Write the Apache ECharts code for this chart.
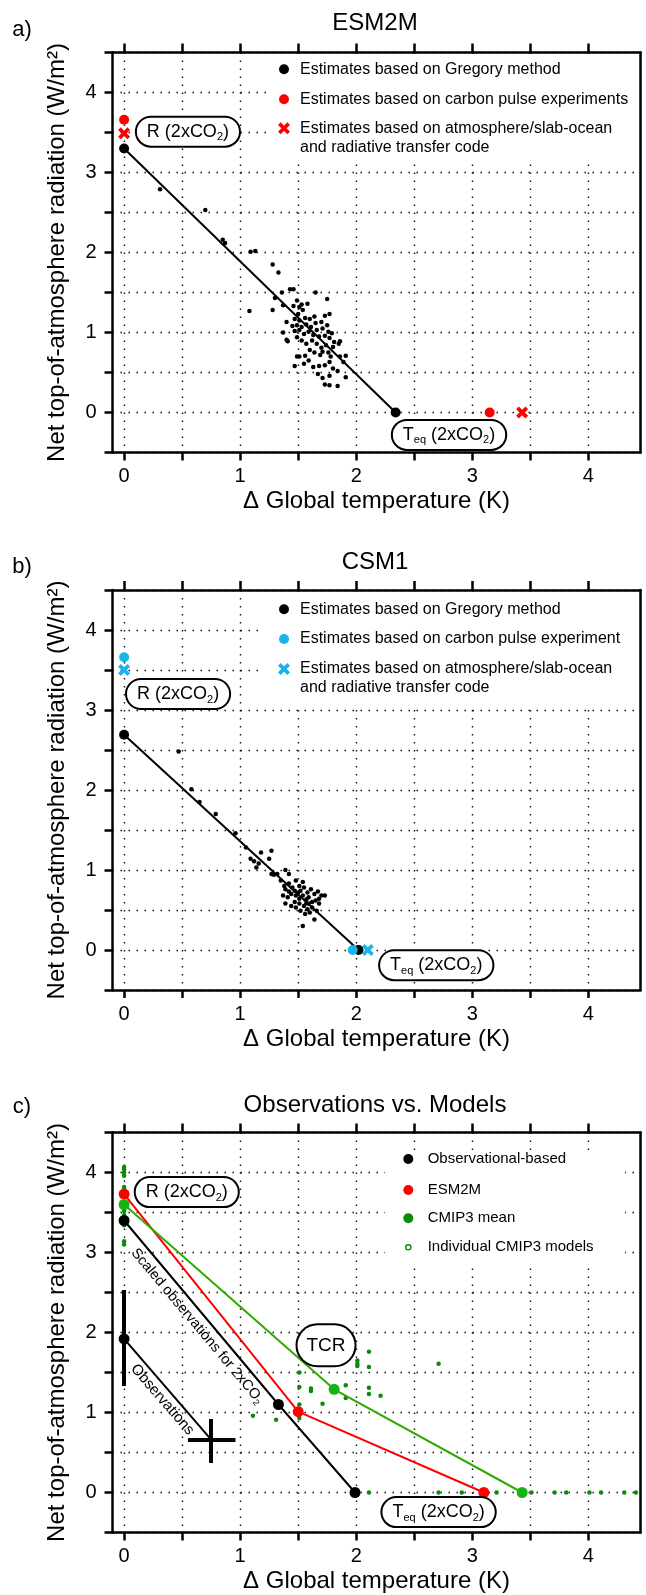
<!DOCTYPE html>
<html>
<head>
    <meta charset="utf-8">
    <title>Gregory plots</title>
    <script src="https://cdn.jsdelivr.net/npm/echarts@6/dist/echarts.min.js"></script>
    <style>
      body { margin: 0; padding: 0; background: #fff; }
    </style>
</head>
<body>
    <div id="main" style="width:646px;height:1595px"></div>
    <script type="text/javascript">
      // ---- data ----
      const xTicks = [0, 0.5, 1, 1.5, 2, 2.5, 3, 3.5, 4];
      const xLabels = [0, 1, 2, 3, 4];

      // a) ESM2M
      const esmGregory = [[0.31,2.79],[0.70,2.53],[0.85,2.16],[0.87,2.12],[1.09,2.01],[1.13,2.02],[1.28,1.85],[1.33,1.75],[1.08,1.27],[1.36,1.50],[1.43,1.54],[1.46,1.54],[1.65,1.50],[1.30,1.43],[1.75,1.42],[1.49,1.40],[1.37,1.34],[1.46,1.33],[1.51,1.32],[1.53,1.35],[1.58,1.36],[1.28,1.28],[1.54,1.28],[1.50,1.23],[1.73,1.21],[1.77,1.23],[1.47,1.17],[1.51,1.15],[1.56,1.18],[1.60,1.17],[1.64,1.20],[1.40,1.13],[1.65,1.12],[1.70,1.13],[1.75,1.09],[1.45,1.08],[1.49,1.09],[1.53,1.07],[1.57,1.10],[1.61,1.07],[1.66,1.03],[1.71,1.05],[1.76,1.01],[1.79,0.99],[1.37,1.00],[1.47,1.02],[1.51,1.03],[1.55,0.98],[1.59,1.01],[1.63,0.97],[1.68,0.95],[1.73,0.96],[1.77,0.93],[1.81,0.88],[1.86,0.89],[1.40,0.91],[1.41,0.89],[1.49,0.94],[1.53,0.90],[1.57,0.86],[1.62,0.90],[1.66,0.86],[1.70,0.81],[1.74,0.84],[1.80,0.82],[1.85,0.86],[1.60,0.78],[1.64,0.75],[1.69,0.72],[1.71,0.76],[1.76,0.75],[1.78,0.70],[1.86,0.70],[1.91,0.71],[1.56,0.71],[1.51,0.70],[1.49,0.70],[1.47,0.58],[1.55,0.61],[1.63,0.57],[1.68,0.58],[1.73,0.59],[1.77,0.63],[1.80,0.55],[1.89,0.63],[1.59,0.65],[1.67,0.48],[1.71,0.43],[1.77,0.46],[1.84,0.52],[1.91,0.44],[1.73,0.35],[1.77,0.34],[1.84,0.33]];
      const esmFit = [[0, 3.30], [2.34, 0]];
      const esmPulse = [[0, 3.66], [3.15, 0]];
      const esmSlab = [[0, 3.49], [3.43, 0]];

      // b) CSM1
      const csmGregory = [[0.47,2.48],[0.58,2.01],[0.65,1.85],[0.79,1.70],[0.96,1.46],[1.05,1.28],[1.09,1.14],[1.12,1.11],[1.16,1.08],[1.14,1.03],[1.18,1.22],[1.27,1.24],[1.25,1.14],[1.27,0.95],[1.29,0.94],[1.32,0.95],[1.39,1.00],[1.42,0.95],[1.35,0.87],[1.38,0.80],[1.39,0.76],[1.42,0.83],[1.45,0.78],[1.48,0.87],[1.51,0.80],[1.52,0.74],[1.55,0.78],[1.58,0.72],[1.61,0.76],[1.64,0.70],[1.67,0.73],[1.70,0.68],[1.73,0.68],[1.37,0.68],[1.41,0.66],[1.44,0.70],[1.48,0.68],[1.51,0.64],[1.54,0.68],[1.57,0.63],[1.59,0.66],[1.62,0.60],[1.65,0.62],[1.68,0.58],[1.47,0.60],[1.51,0.58],[1.55,0.55],[1.58,0.51],[1.62,0.53],[1.66,0.49],[1.60,0.47],[1.64,0.38],[1.54,0.30],[1.50,0.72],[1.47,0.74],[1.42,0.73],[1.54,0.85],[1.57,0.58],[1.68,0.64],[1.44,0.55],[1.48,0.53],[1.52,0.49],[1.56,0.45],[1.59,0.58],[1.39,0.58]];
      const csmFit = [[0, 2.69], [2.02, 0]];
      const csmPulse = [[0, 3.66], [1.97, 0]];
      const csmSlab = [[0, 3.50], [2.10, 0]];

      // c) Observations vs. Models
      const cmipModels = [[0,4.07],[0,4.04],[0,4.00],[0,3.96],[0,3.82],[0,3.79],[0,3.52],[0,3.47],[0,3.38],[0,3.34],[0,3.14],[0,3.10],[1.11,0.96],[1.31,0.91],[1.51,1.50],[1.51,1.32],[1.51,1.10],[1.51,0.93],[1.61,1.30],[1.61,1.27],[1.71,1.11],[1.91,1.34],[1.91,1.18],[2.01,1.65],[2.01,1.61],[2.01,1.58],[2.11,1.76],[2.11,1.57],[2.11,1.31],[2.11,1.23],[2.21,1.21],[2.71,1.61],[2.11,0],[2.71,0],[2.91,0],[3.21,0],[3.51,0],[3.71,0],[3.81,0],[4.01,0],[4.11,0],[4.31,0],[4.41,0]];
      const obsRaw = [[0, 1.92], [0.75, 0.66]];
      const obsScaled = [[0, 3.40], [1.33, 1.10], [1.99, 0]];
      const esmModel = [[0, 3.73], [1.50, 1.01], [3.10, 0]];
      const cmipMean = [[0, 3.60], [1.81, 1.29], [3.43, 0]];
      const obsErrV = [[0, 1.33, 2.53], [0.75, 0.37, 0.92]];   // x, low, high
      const obsErrH = [[0.66, 0.55, 0.96]];                    // y, low, high

      // ---- layout ----
      const FONT = "'Liberation Sans', Arial, Helvetica, sans-serif";
      const RED = '#ff0000', CYAN = '#1ab4ec', GREEN_LINE = '#2eaa00', GREEN_DOT = '#14b414', GREEN_SMALL = '#0a8c0a';
      const X_MIN = -0.1, X_MAX = 4.45, Y_MIN = -0.5, Y_MAX = 4.5;
      const GRID_LEFT = 112.5, GRID_W = 528, GRID_H = 400;
      const panelTops = [52.5, 590, 1132.5];
      const unitX = GRID_W / (X_MAX - X_MIN);
      const CROSS = [[0,2.2],[2.2,0],[5,2.8],[7.8,0],[10,2.2],[7.2,5],[10,7.8],[7.8,10],[5,7.2],[2.2,10],[0,7.8],[2.8,5]];
      const X_PATH = 'path://M' + CROSS.map(p => p.join(',')).join('L') + 'Z';

      const dotted = { type: [1.5, 6.5], width: 1.4, color: '#111' };
      const spine = { color: '#000', width: 2.5 };

      const chart = echarts.init(document.getElementById('main'));

      const grids = [], xAxes = [], yAxes = [];
      panelTops.forEach((top, i) => {
        grids.push({ left: GRID_LEFT, top: top, width: GRID_W, height: GRID_H });
        // overlay grid starting at x = 0, only for the vertical dotted grid lines
        grids.push({ left: GRID_LEFT - X_MIN * unitX, top: top, width: GRID_W + X_MIN * unitX, height: GRID_H });

        xAxes.push({
          gridIndex: 2 * i, type: 'value', min: X_MIN, max: X_MAX, position: 'bottom',
          axisLine: { onZero: false, lineStyle: spine },
          axisTick: { customValues: xTicks, length: 8, lineStyle: spine },
          axisLabel: { customValues: xLabels, fontSize: 20, margin: 14, color: '#000', fontFamily: FONT },
          splitLine: { show: false },
          name: 'Δ Global temperature (K)', nameLocation: 'middle', nameGap: 37,
          nameTextStyle: { fontSize: 24, color: '#000', fontFamily: FONT }
        });
        xAxes.push({
          gridIndex: 2 * i, type: 'value', min: X_MIN, max: X_MAX, position: 'top',
          axisLine: { onZero: false, lineStyle: spine },
          axisTick: { customValues: xTicks, length: 9, lineStyle: spine },
          axisLabel: { show: false }, splitLine: { show: false }
        });
        xAxes.push({
          gridIndex: 2 * i + 1, type: 'value', min: 0, max: X_MAX, interval: 0.5,
          axisLine: { show: false }, axisTick: { show: false }, axisLabel: { show: false },
          splitLine: { show: true, lineStyle: dotted }
        });

        yAxes.push({
          gridIndex: 2 * i, type: 'value', min: Y_MIN, max: Y_MAX, interval: 0.5, position: 'left',
          axisLine: { onZero: false, lineStyle: spine },
          axisTick: { length: 8, lineStyle: spine },
          axisLabel: { fontSize: 20, margin: 16, color: '#000', fontFamily: FONT,
                       formatter: v => (Number.isInteger(v) ? String(v) : '') },
          splitLine: { show: true, lineStyle: dotted },
          name: 'Net top-of-atmosphere radiation (W/m²)', nameLocation: 'middle', nameRotate: 90, nameGap: 43,
          nameTextStyle: { fontSize: 24, color: '#000', fontFamily: FONT }
        });
        yAxes.push({
          gridIndex: 2 * i, type: 'value', min: Y_MIN, max: Y_MAX, position: 'right',
          axisLine: { onZero: false, lineStyle: spine },
          axisTick: { show: false }, axisLabel: { show: false }, splitLine: { show: false }
        });
        yAxes.push({ gridIndex: 2 * i + 1, type: 'value', min: Y_MIN, max: Y_MAX, show: false });
      });

      const ax = i => ({ xAxisIndex: 3 * i, yAxisIndex: 3 * i });

      function smallDots(i, data, color) {
        return Object.assign({ type: 'scatter', data: data, symbol: 'circle', symbolSize: 4.5,
          itemStyle: { color: color, opacity: 1 }, z: 2 }, ax(i));
      }
      function bigDots(i, data, color, symbol, size) {
        return Object.assign({ type: 'scatter', data: data, symbol: symbol || 'circle', symbolSize: size || 10,
          itemStyle: { color: color, opacity: 1 }, z: 5 }, ax(i));
      }
      function pathLine(i, data, color, dotColor, size) {
        return Object.assign({ type: 'line', data: data, symbol: 'circle', symbolSize: size || 10, showSymbol: true,
          lineStyle: { color: color, width: 2 }, itemStyle: { color: dotColor || color, opacity: 1 }, z: 4 }, ax(i));
      }

      const errSegments = obsErrV.map(d => ({ coords: [[d[0], d[1]], [d[0], d[2]]] }))
        .concat(obsErrH.map(d => ({ coords: [[d[1], d[0]], [d[2], d[0]]] })));

      const series = [
        smallDots(0, esmGregory, '#000'),
        pathLine(0, esmFit, '#000', '#000', 10),
        bigDots(0, esmPulse, RED, 'circle', 10),
        bigDots(0, esmSlab, RED, X_PATH, 12),

        smallDots(1, csmGregory, '#000'),
        pathLine(1, csmFit, '#000', '#000', 10),
        bigDots(1, csmPulse, CYAN, 'circle', 10),
        bigDots(1, csmSlab, CYAN, X_PATH, 12),

        smallDots(2, cmipModels, GREEN_SMALL),
        Object.assign({ type: 'lines', coordinateSystem: 'cartesian2d', data: errSegments,
          lineStyle: { color: '#000', width: 4, opacity: 1 }, z: 3 }, ax(2)),
        pathLine(2, obsRaw.map((p, k) => (k === 0 ? p : { value: p, symbol: 'none' })), '#000', '#000', 11),
        pathLine(2, obsScaled, '#000', '#000', 11),
        pathLine(2, esmModel, RED, RED, 11),
        pathLine(2, cmipMean, GREEN_LINE, GREEN_DOT, 11)
      ];

      chart.setOption({
        animation: false,
        backgroundColor: '#fff',
        textStyle: { fontFamily: FONT },
        grid: grids, xAxis: xAxes, yAxis: yAxes,
        series: series
      });

      // ---- text, legends and labelled boxes ----
      const toPx = (i, p) => chart.convertToPixel(ax(i), p);
      const g = [];

      function plainText(x, y, text, size, extra) {
        g.push(Object.assign({ type: 'text', x: x, y: y, z: 60,
          style: { text: text, fontSize: size, fontFamily: FONT, fill: '#000', align: 'center', verticalAlign: 'middle' } }, extra || {}));
      }

      [['a)', 'ESM2M', 23, 30], ['b)', 'CSM1', 562, 567], ['c)', 'Observations vs. Models', 1105, 1107]].forEach(t => {
        plainText(375, t[2], t[1], 24);
        plainText(22, t[3], t[0], 22);
      });

      function icon(kind, color, cx, cy) {
        if (kind === 'cross') {
          const pts = CROSS.map(p => [cx - 6 + p[0] * 1.2, cy - 6 + p[1] * 1.2]);
          return { type: 'polygon', z: 62, shape: { points: pts }, style: { fill: color } };
        }
        if (kind === 'ring') {
          return { type: 'circle', z: 62, shape: { cx: cx, cy: cy, r: 2.6 }, style: { fill: '#fff', stroke: color, lineWidth: 1.4 } };
        }
        return { type: 'circle', z: 62, shape: { cx: cx, cy: cy, r: 5 }, style: { fill: color } };
      }

      function legendBlock(box, iconX, textX, fontSize, rows) {
        g.push({ type: 'rect', z: 58, shape: { x: box[0], y: box[1], width: box[2] - box[0], height: box[3] - box[1] },
          style: { fill: '#fff' } });
        rows.forEach(r => {
          g.push(icon(r[0], r[1], iconX, r[3]));
          g.push({ type: 'text', x: textX, y: r[3] - 9.5, z: 62,
            style: { text: r[2], fontSize: fontSize, fontFamily: FONT, fill: '#000', align: 'left', verticalAlign: 'top', lineHeight: 19 } });
        });
      }

      legendBlock([268, 55, 634, 162], 284, 300, 16, [
        ['dot', '#000', 'Estimates based on Gregory method', 69.3],
        ['dot', RED, 'Estimates based on carbon pulse experiments', 99.3],
        ['cross', RED, 'Estimates based on atmosphere/slab-ocean\nand radiative transfer code', 128.3]
      ]);
      legendBlock([258, 593, 634, 705], 284, 300, 16, [
        ['dot', '#000', 'Estimates based on Gregory method', 609.3],
        ['dot', CYAN, 'Estimates based on carbon pulse experiment', 639],
        ['cross', CYAN, 'Estimates based on atmosphere/slab-ocean\nand radiative transfer code', 669]
      ]);
      legendBlock([385, 1150, 625, 1263], 408.3, 427.7, 15, [
        ['dot', '#000', 'Observational-based', 1159],
        ['dot', RED, 'ESM2M', 1190],
        ['dot', GREEN_SMALL, 'CMIP3 mean', 1218.3],
        ['ring', GREEN_SMALL, 'Individual CMIP3 models', 1247.3]
      ]);

      const richSub = {
        n: { fontSize: 18, fontFamily: FONT, fill: '#000', lineHeight: 22 },
        s: { fontSize: 11, fontFamily: FONT, fill: '#000', lineHeight: 11, verticalAlign: 'bottom' },
        b: { fontSize: 19, fontFamily: FONT, fill: '#000', lineHeight: 22 }
      };
      const R_TEXT = '{n|R (2xCO}{s|2}{n|)}';
      const T_TEXT = '{n|T}{s|eq}{n| (2xCO}{s|2}{n|)}';

      function pill(i, at, text, pad, radius) {
        const p = toPx(i, at);
        g.push({ type: 'text', x: p[0], y: p[1], z: 64,
          style: { text: text, rich: richSub, align: 'center', verticalAlign: 'middle',
                   backgroundColor: '#fff', borderColor: '#000', borderWidth: 2,
                   borderRadius: radius || 14, padding: pad || [3, 10] } });
      }
      pill(0, [0.55, 3.51], R_TEXT);
      pill(0, [2.80, -0.28], T_TEXT);
      pill(1, [0.465, 3.20], R_TEXT);
      pill(1, [2.69, -0.19], T_TEXT);
      pill(2, [0.54, 3.755], R_TEXT);
      pill(2, [2.71, -0.245], T_TEXT);
      pill(2, [1.74, 1.84], '{b|TCR}', [9, 9], 20);

      const scaledAt = toPx(2, [0.63, 2.08]);
      g.push({ type: 'text', x: scaledAt[0], y: scaledAt[1], z: 60, rotation: -50 * Math.PI / 180,
        style: { text: '{t|Scaled observations for 2xCO}{u|2}', align: 'center', verticalAlign: 'middle',
          rich: { t: { fontSize: 14.5, fontFamily: FONT, fill: '#000', lineHeight: 18 },
                  u: { fontSize: 9, fontFamily: FONT, fill: '#000', lineHeight: 9, verticalAlign: 'bottom' } } } });
      const obsAt = toPx(2, [0.33, 1.16]);
      g.push({ type: 'text', x: obsAt[0], y: obsAt[1], z: 60, rotation: -49 * Math.PI / 180,
        style: { text: 'Observations', fontSize: 15, fontFamily: FONT, fill: '#000', align: 'center', verticalAlign: 'middle' } });

      chart.setOption({ graphic: { elements: g } });
    </script>
</body>
</html>
